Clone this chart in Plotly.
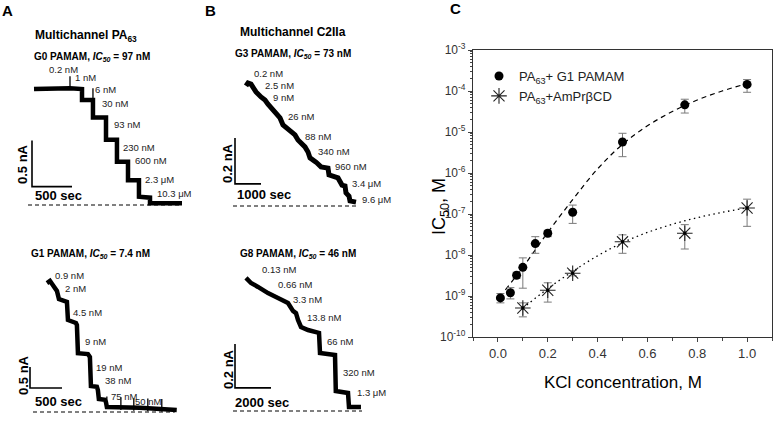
import plotly.graph_objects as go

W, H = 781, 431

# ---------------- Panel C data ----------------
kcl_g1 = [0.01, 0.05, 0.075, 0.10, 0.15, 0.20, 0.30, 0.50, 0.75, 1.00]
ic50_g1 = [0.9e-9, 1.2e-9, 3.2e-9, 5.0e-9, 1.9e-8, 3.4e-8, 1.1e-7, 5.7e-6, 4.6e-5, 1.45e-4]
ic50_g1_hi = [1.15e-9, 1.6e-9, 3.8e-9, 8.5e-9, 2.8e-8, 4.0e-8, 1.65e-7, 9.3e-6, 6.3e-5, 1.9e-4]
ic50_g1_lo = [0.68e-9, 0.85e-9, 2.7e-9, 1.55e-9, 1.1e-8, 2.8e-8, 5.9e-8, 2.5e-6, 2.9e-5, 9.3e-5]

kcl_cd = [0.10, 0.20, 0.30, 0.50, 0.75, 1.00]
ic50_cd = [5.1e-10, 1.38e-9, 3.6e-9, 2.1e-8, 3.4e-8, 1.4e-7]
ic50_cd_hi = [6.8e-10, 2.1e-9, 4.2e-9, 3.1e-8, 5.5e-8, 2.3e-7]
ic50_cd_lo = [3.1e-10, 7.1e-10, 3.1e-9, 1.1e-8, 1.4e-8, 5.0e-8]

# fitted curves (log10 of IC50)
fit_g1_x = [0.03, 0.10, 0.20, 0.30, 0.40, 0.50, 0.60, 0.70, 0.80, 0.90, 1.00]
fit_g1_log = [-8.85, -8.30, -7.45, -6.65, -5.90, -5.30, -4.85, -4.50, -4.22, -4.00, -3.82]
fit_cd_x = [0.10, 0.20, 0.30, 0.40, 0.50, 0.60, 0.70, 0.80, 0.90, 1.00]
fit_cd_log = [-9.30, -8.82, -8.40, -8.02, -7.70, -7.45, -7.25, -7.09, -6.96, -6.85]

y_decades = [-10, -9, -8, -7, -6, -5, -4, -3]

# ---------------- Panel A/B trace data (time in s, current in nA) ----------------
a0_t = [25, 475, 625, 625, 762, 762, 925, 925, 1062, 1062, 1200, 1200, 1337, 1337, 1475, 1475, 1875]
a0_i = [1.26, 1.27, 1.26, 1.14, 1.14, 0.95, 0.95, 0.71, 0.71, 0.47, 0.47, 0.27, 0.27, 0.09, 0.08, 0.02, 0.02]
a0_add_t = [475, 762]
a0_add_i = [1.33, 1.20]
a0_labels = ["0.2 nM", "1 nM", "6 nM", "30 nM", "93 nM", "230 nM", "600 nM", "2.3 μM", "10.3 μM"]
a0_lab_t = [187, 512, 762, 850, 1000, 1112, 1262, 1387, 1537]
a0_lab_i = [1.47, 1.39, 1.26, 1.10, 0.87, 0.63, 0.48, 0.28, 0.13]

a1_t = [265, 312, 359, 421, 452, 515, 577, 593, 718, 733, 749, 905, 936, 952, 1045, 1061, 1076, 1170, 1186, 1201, 1716, 2293]
a1_i = [3.07, 3.12, 3.02, 2.88, 2.69, 2.64, 2.62, 2.19, 2.12, 2.07, 1.40, 1.38, 1.31, 0.62, 0.60, 0.52, 0.31, 0.29, 0.24, 0.12, 0.10, 0.05]
a1_add_t = [1201, 1420, 1622, 1841, 2059]
a1_add_i = [0.22, 0.20, 0.18, 0.17, 0.16]
a1_labels = ["0.9 nM", "2 nM", "4.5 nM", "9 nM", "19 nM", "38 nM", "75 nM", "50 nM"]
a1_lab_t = [359, 515, 640, 827, 998, 1139, 1232, 1607]
a1_lab_i = [3.26, 2.95, 2.38, 1.69, 1.07, 0.74, 0.38, 0.26]

b0_t = [423, 500, 615, 692, 808, 1000, 1154, 1269, 1462, 1654, 1731, 1846, 2115, 2308, 2423, 2692, 2808, 2885, 3115, 3308, 3577, 3615, 3962, 4115, 4231, 4269, 4385, 4423, 4654]
b0_i = [0.522, 0.535, 0.530, 0.517, 0.496, 0.474, 0.461, 0.443, 0.417, 0.396, 0.383, 0.352, 0.330, 0.309, 0.287, 0.257, 0.235, 0.209, 0.191, 0.170, 0.165, 0.135, 0.122, 0.091, 0.087, 0.057, 0.043, 0.022, 0.017]
b0_labels = ["0.2 nM", "2.5 nM", "9 nM", "26 nM", "88 nM", "340 nM", "960 nM", "3.4 μM", "9.6 μM"]
b0_lab_t = [654, 1077, 1385, 1962, 2615, 3115, 3769, 4423, 4808]
b0_lab_i = [0.578, 0.526, 0.470, 0.387, 0.304, 0.239, 0.170, 0.096, 0.030]

b1_t = [611, 889, 1278, 1833, 2389, 2944, 3222, 3389, 3500, 3667, 4056, 4667, 4722, 5556, 5600, 6278, 6333, 6998]
b1_i = [0.605, 0.582, 0.564, 0.536, 0.514, 0.491, 0.455, 0.445, 0.414, 0.382, 0.368, 0.355, 0.264, 0.255, 0.091, 0.082, 0.018, 0.018]
b1_labels = ["0.13 nM", "0.66 nM", "3.3 nM", "13.8 nM", "66 nM", "320 nM", "1.3 μM"]
b1_lab_t = [1389, 2278, 3111, 3889, 5000, 5889, 6667]
b1_lab_i = [0.641, 0.577, 0.509, 0.423, 0.318, 0.173, 0.082]

# panel geometry in px
panels = {
    "a0": dict(px=(15, 200, 60, 215), ox=32, sp=12.5, base=205, k=0.5 / 46, bar_t=500, bar_i=0.5, bar_i0=0.2,
               baseline=(-50, 1875)),
    "a1": dict(px=(15, 200, 265, 420), ox=30, sp=500 / 32, base=412, k=0.5 / 21, bar_t=500, bar_i=0.5, bar_i0=0.57,
               baseline=(47, 2262)),
    "b0": dict(px=(220, 395, 60, 215), ox=235, sp=1000 / 26, base=206, k=0.2 / 46, bar_t=1000, bar_i=0.2, bar_i0=0.096,
               baseline=(-77, 4700)),
    "b1": dict(px=(220, 395, 265, 420), ox=235, sp=2000 / 36, base=411, k=0.2 / 44, bar_t=2000, bar_i=0.2, bar_i0=0.105,
               baseline=(-111, 7056)),
}

FONT = "Arial, Liberation Sans, sans-serif"
fig = go.Figure()

# ---------------- Panel C ----------------
def errs(v, hi, lo):
    return [h - a for a, h in zip(v, hi)], [a - l for a, l in zip(v, lo)]

fig.add_trace(go.Scatter(x=fit_g1_x, y=[10.0 ** v for v in fit_g1_log], mode="lines",
                         line=dict(color="black", width=1.2, dash="5px,4px", shape="spline"),
                         showlegend=False, xaxis="x", yaxis="y", hoverinfo="skip"))
fig.add_trace(go.Scatter(x=fit_cd_x, y=[10.0 ** v for v in fit_cd_log], mode="lines",
                         line=dict(color="black", width=1.3, dash="1.5px,3.5px", shape="spline"),
                         showlegend=False, xaxis="x", yaxis="y", hoverinfo="skip"))
e1p, e1m = errs(ic50_g1, ic50_g1_hi, ic50_g1_lo)
fig.add_trace(go.Scatter(x=kcl_g1, y=ic50_g1, mode="markers", name="PA<sub>63</sub>+ G1 PAMAM",
                         marker=dict(symbol="circle", size=9, color="black"),
                         error_y=dict(type="data", array=e1p, arrayminus=e1m, color="#7a7a7a", thickness=1, width=4),
                         xaxis="x", yaxis="y"))
e2p, e2m = errs(ic50_cd, ic50_cd_hi, ic50_cd_lo)
fig.add_trace(go.Scatter(x=kcl_cd, y=ic50_cd, mode="markers", name="PA<sub>63</sub>+AmPrβCD",
                         marker=dict(symbol="asterisk-open", size=13, color="#222", line=dict(width=1.1, color="#222")),
                         error_y=dict(type="data", array=e2p, arrayminus=e2m, color="#7a7a7a", thickness=1, width=4),
                         xaxis="x", yaxis="y"))
fig.add_trace(go.Scatter(x=kcl_cd, y=ic50_cd, mode="markers", showlegend=False,
                         marker=dict(symbol="square", size=3, color="black"), xaxis="x", yaxis="y", hoverinfo="skip"))

# ---------------- Panels A/B ----------------
series = {
    "a0": (a0_t, a0_i, a0_labels, a0_lab_t, a0_lab_i, 4.5),
    "a1": (a1_t, a1_i, a1_labels, a1_lab_t, a1_lab_i, 4.5),
    "b0": (b0_t, b0_i, b0_labels, b0_lab_t, b0_lab_i, 5),
    "b1": (b1_t, b1_i, b1_labels, b1_lab_t, b1_lab_i, 4.5),
}
adds = {"a0": (a0_add_t, a0_add_i), "a1": (a1_add_t, a1_add_i)}
scale_text = {"a0": ("0.5 nA", "500 sec"), "a1": ("0.5 nA", "500 sec"),
              "b0": ("0.2 nA", "1000 sec"), "b1": ("0.2 nA", "2000 sec")}
scale_text_px = {"a0": (23, 164, 33, 196), "a1": (23, 375, 33, 401),
                 "b0": (228, 163, 235, 195), "b1": (228, 369, 233, 402)}

annotations = []
layout_axes = {}
for n, key in enumerate(["a0", "a1", "b0", "b1"], start=2):
    p = panels[key]
    x0, x1, y0, y1 = p["px"]
    xr = [(x0 - p["ox"]) * p["sp"], (x1 - p["ox"]) * p["sp"]]
    yr = [(p["base"] - y1) * p["k"], (p["base"] - y0) * p["k"]]
    layout_axes[f"xaxis{n}"] = dict(domain=[x0 / W, x1 / W], range=xr, visible=False, anchor=f"y{n}", automargin=False)
    layout_axes[f"yaxis{n}"] = dict(domain=[1 - y1 / H, 1 - y0 / H], range=yr, visible=False, anchor=f"x{n}", automargin=False)
    xa, ya = f"x{n}", f"y{n}"
    t, i, labs, lt, li, lw = series[key]
    fig.add_trace(go.Scatter(x=list(p["baseline"]), y=[0, 0], mode="lines",
                             line=dict(color="black", width=1, dash="4px,3px"),
                             showlegend=False, xaxis=xa, yaxis=ya, hoverinfo="skip"))
    fig.add_trace(go.Scatter(x=t, y=i, mode="lines", line=dict(color="black", width=lw),
                             showlegend=False, xaxis=xa, yaxis=ya, hoverinfo="skip"))
    if key in adds:
        at, ai = adds[key]
        fig.add_trace(go.Scatter(x=at, y=ai, mode="markers",
                                 marker=dict(symbol="line-ns-open", size=9, color="black",
                                             line=dict(width=1.3, color="black")),
                                 showlegend=False, xaxis=xa, yaxis=ya, hoverinfo="skip"))
    bt, bi, bi0 = p["bar_t"], p["bar_i"], p["bar_i0"]
    fig.add_trace(go.Scatter(x=[0, 0, bt], y=[bi0 + bi, bi0, bi0], mode="lines",
                             line=dict(color="black", width=1.6),
                             showlegend=False, xaxis=xa, yaxis=ya, hoverinfo="skip"))
    for s, tx, iy in zip(labs, lt, li):
        annotations.append(dict(x=tx, y=iy, xref=xa, yref=ya, text=s, showarrow=False,
                                xanchor="left", yanchor="middle",
                                font=dict(family=FONT, size=9.5, color="#222")))
    vx, vy, hx, hy = scale_text_px[key]
    vt, ht = scale_text[key]
    annotations.append(dict(x=(vx - p["ox"]) * p["sp"], y=(p["base"] - vy) * p["k"], xref=xa, yref=ya,
                            text=f"<b>{vt}</b>", textangle=-90, showarrow=False, xanchor="center", yanchor="middle",
                            font=dict(family=FONT, size=13, color="black")))
    annotations.append(dict(x=(hx - p["ox"]) * p["sp"], y=(p["base"] - hy) * p["k"], xref=xa, yref=ya,
                            text=f"<b>{ht}</b>", showarrow=False, xanchor="left", yanchor="middle",
                            font=dict(family=FONT, size=13, color="black")))

def ptxt(x, y, text, size, bold=True, anchor="center"):
    annotations.append(dict(x=x / W, y=1 - y / H, xref="paper", yref="paper", text=(f"<b>{text}</b>" if bold else text),
                            showarrow=False, xanchor=anchor, yanchor="middle",
                            font=dict(family=FONT, size=size, color="black")))

ptxt(7, 10, "A", 15)
ptxt(210, 11, "B", 15)
ptxt(455, 9, "C", 15)
ptxt(86, 36, "Multichannel PA<sub>63</sub>", 12)
ptxt(92, 57, "G0 PAMAM, <i>IC<sub>50</sub></i> = 97 nM", 10)
ptxt(90, 254, "G1 PAMAM, <i>IC<sub>50</sub></i> = 7.4 nM", 10)
ptxt(293, 32, "Multichannel C2IIa", 12)
ptxt(293, 54, "G3 PAMAM, <i>IC<sub>50</sub></i> = 73 nM", 10)
ptxt(298, 254, "G8 PAMAM, <i>IC<sub>50</sub></i> = 46 nM", 10)

annotations.append(dict(x=440 / W, y=1 - 207 / H, xref="paper", yref="paper", text="IC<sub>50</sub>, M",
                        textangle=-90, showarrow=False, xanchor="center", yanchor="middle",
                        font=dict(family=FONT, size=18, color="black")))
annotations.append(dict(x=623 / W, y=1 - 382 / H, xref="paper", yref="paper", text="KCl concentration, M",
                        showarrow=False, xanchor="center", yanchor="middle",
                        font=dict(family=FONT, size=17, color="black")))

fig.update_layout(
    width=W, height=H, autosize=False,
    margin=dict(l=0, r=0, t=0, b=0, pad=0, autoexpand=False),
    paper_bgcolor="white", plot_bgcolor="white",
    font=dict(family=FONT, color="black"),
    hovermode=False,
    xaxis=dict(domain=[473 / W, 772 / W], range=[-0.1, 1.1], anchor="y", automargin=False,
               tickvals=[0.0, 0.2, 0.4, 0.6, 0.8, 1.0], ticktext=["0.0", "0.2", "0.4", "0.6", "0.8", "1.0"],
               ticks="outside", ticklen=4, tickwidth=1, tickcolor="#444",
               minor=dict(tickvals=[-0.1, 0.1, 0.3, 0.5, 0.7, 0.9, 1.1], ticks="outside", ticklen=3, tickcolor="#444"),
               showline=True, linecolor="#333", linewidth=1.3, mirror=True, showgrid=False, zeroline=False,
               tickfont=dict(size=13, color="#333")),
    yaxis=dict(domain=[1 - 337 / H, 1 - 50 / H], type="log", range=[-10, -3], anchor="x", automargin=False,
               tickvals=[10.0 ** d for d in y_decades], ticktext=[f"10<sup>{d}</sup>" for d in y_decades],
               ticks="outside", ticklen=4, tickwidth=1, tickcolor="#444",
               minor=dict(ticks="outside", ticklen=2, dtick="D1", tickcolor="#444"),
               showline=True, linecolor="#333", linewidth=1.3, mirror=True, showgrid=False, zeroline=False,
               tickfont=dict(size=12, color="#333")),
    legend=dict(x=479 / W, y=1 - 61 / H, xanchor="left", yanchor="top", bgcolor="rgba(0,0,0,0)",
                font=dict(size=13, family=FONT, color="#222"), tracegroupgap=2, itemwidth=30),
    annotations=annotations,
    **layout_axes,
)

fig.write_html("out.html", config={"displayModeBar": False},
               post_script="document.body.style.margin='0px';document.body.style.overflow='hidden';")
